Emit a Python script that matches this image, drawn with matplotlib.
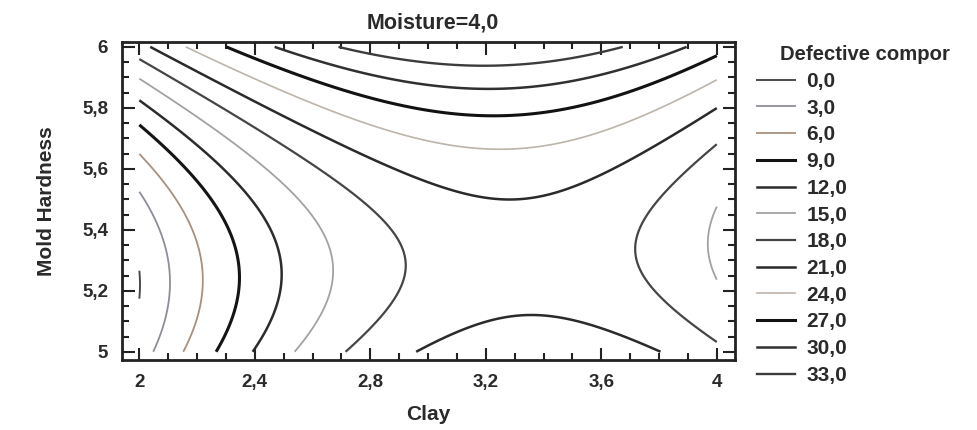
import numpy as np
import matplotlib
matplotlib.use("Agg")
import matplotlib.pyplot as plt
from matplotlib.lines import Line2D
from matplotlib.ticker import MultipleLocator, FixedLocator

# Fitted response surface at Moisture = 4,0 (Defective components vs Clay and Mold Hardness)
saddle_value = 19.8
clay_center = 3.32
hardness_center = 5.31
clay_curvature = -11.25
hardness_curvature = 33.0
interaction = -4.5

clay_range = [2.0, 4.0]
hardness_range = [5.0, 6.0]

levels = [0, 3, 6, 9, 12, 15, 18, 21, 24, 27, 30, 33]
level_labels = ["0,0", "3,0", "6,0", "9,0", "12,0", "15,0", "18,0", "21,0",
                "24,0", "27,0", "30,0", "33,0"]
level_colors = ["#4a4a4a", "#8e8e98", "#a8907e", "#141414", "#2c2c2c", "#a2a2a2",
                "#454545", "#2a2a2a", "#bdb4aa", "#121212", "#303030", "#3c3c3c"]
level_widths = [1.4, 1.3, 1.3, 2.2, 1.8, 1.3, 1.6, 1.8, 1.2, 2.2, 1.8, 1.7]

x_ticks = [2, 2.4, 2.8, 3.2, 3.6, 4]
x_tick_labels = ["2", "2,4", "2,8", "3,2", "3,6", "4"]
y_ticks = [5, 5.2, 5.4, 5.6, 5.8, 6]
y_tick_labels = ["5", "5,2", "5,4", "5,6", "5,8", "6"]

title = "Moisture=4,0"
x_label = "Clay"
y_label = "Mold Hardness"
legend_title = "Defective compor"

plt.rcParams["font.family"] = ["Liberation Sans", "DejaVu Sans"]
text_color = "#2a2a2a"
fs_tick = 13.5
fs_lab = 15
fs_leg = 15

W, H = 977, 430
fig = plt.figure(figsize=(W / 100, H / 100), dpi=100, facecolor="white")
ax = fig.add_axes([122 / W, 1 - 360 / H, (735 - 122) / W, (360 - 42) / H])

cx = np.linspace(clay_range[0], clay_range[1], 401)
hy = np.linspace(hardness_range[0], hardness_range[1], 401)
X, Y = np.meshgrid(cx, hy)
dx = X - clay_center
dy = Y - hardness_center
Z = saddle_value + clay_curvature * dx ** 2 + hardness_curvature * dy ** 2 + interaction * dx * dy

ax.contour(X, Y, Z, levels=levels, colors=level_colors, linewidths=level_widths)

ax.set_xlim(1.940, 4.063)
ax.set_ylim(4.973, 6.016)
ax.xaxis.set_major_locator(FixedLocator(x_ticks))
ax.set_xticklabels(x_tick_labels)
ax.yaxis.set_major_locator(FixedLocator(y_ticks))
ax.set_yticklabels(y_tick_labels)
ax.xaxis.set_minor_locator(MultipleLocator(0.1))
ax.yaxis.set_minor_locator(MultipleLocator(0.05))
ax.tick_params(which="both", direction="in", top=True, right=True, colors="#222222",
               width=1.5)
ax.tick_params(which="major", length=9)
ax.tick_params(which="minor", length=5)
ax.tick_params(axis="both", which="major", labelsize=fs_tick, labelcolor=text_color, pad=10)
for lab in ax.get_xticklabels() + ax.get_yticklabels():
    lab.set_fontweight("bold")
for sp in ax.spines.values():
    sp.set_linewidth(2)
    sp.set_color("#222222")

ax.set_xlabel(x_label, fontsize=fs_lab, fontweight="bold", color=text_color)
ax.set_ylabel(y_label, fontsize=fs_lab, fontweight="bold", color=text_color)
ax.xaxis.set_label_coords(0.5, -0.143)
ax.yaxis.set_label_coords(-0.108, 0.5)

fig.text(433 / W, 1 - 28 / H, title, ha="center", va="baseline", fontsize=15.5,
         fontweight="bold", color=text_color)
fig.text(780 / W, 1 - 60 / H, legend_title, ha="left", va="baseline", fontsize=14.6,
         fontweight="bold", color=text_color)

handles = [Line2D([], [], color=c, lw=w) for c, w in zip(level_colors, level_widths)]
leg = ax.legend(handles, level_labels, loc="upper left",
                bbox_to_anchor=(757 / W, 1 - 72 / H), bbox_transform=fig.transFigure,
                frameon=False, borderpad=0, borderaxespad=0, handlelength=1.83,
                handletextpad=0.53, labelspacing=0.37,
                prop={"size": fs_leg, "weight": "bold"})
for t in leg.get_texts():
    t.set_color(text_color)

fig.savefig("out.png", dpi=100, facecolor="white")
